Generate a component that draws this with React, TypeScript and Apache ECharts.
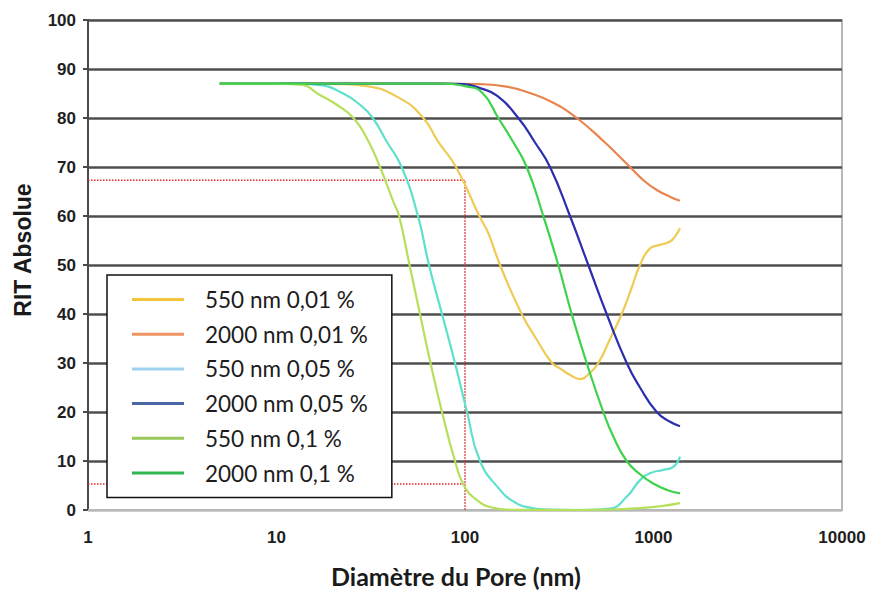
import React, { useEffect, useRef } from 'react';
import * as echarts from 'echarts';

const seriesNames = [
  '550 nm 0,01 %',
  '2000 nm 0,01 %',
  '550 nm 0,05 %',
  '2000 nm 0,05 %',
  '550 nm 0,1 %',
  '2000 nm 0,1 %',
];

const curveColors = ['#efcb55', '#e8844c', '#5ee0cd', '#2b2fae', '#b6e05c', '#3fd24c'];
const legendColors = ['#f3c53c', '#ee9462', '#9fd2ef', '#4a68a6', '#98c95a', '#2fb552'];

// [pore diameter (nm), RIT absolue]
const rit550_001 = [
  [5, 87], [10.4, 87], [21.7, 86.9], [30.1, 86.5], [45.2, 84], [60.1, 80], [72, 75.2],
  [89.6, 70], [119.1, 60], [132.9, 56.5], [153.4, 50], [199.9, 40], [240, 34.8], [289.4, 30],
  [319.1, 28.9], [360, 27.6], [407.4, 26.7], [455, 27.8], [509.6, 30], [590, 35], [678.2, 40],
  [760, 45], [848, 50], [958, 53.4], [1082, 54.1], [1223, 54.8], [1310, 56], [1382, 57.5],
];
const rit2000_001 = [
  [5, 87], [73.7, 87], [120, 86.9], [166, 86.4], [221, 85.1], [294, 83.1], [392, 80],
  [542, 75.3], [750, 70], [890, 67.2], [1040, 65.3], [1229, 63.9], [1382, 63.1],
];
const rit550_005 = [
  [5, 87], [12.5, 87], [17, 86.7], [22.6, 85], [27.7, 82.7], [32.4, 80], [38.4, 75.2],
  [46.1, 70], [56.3, 60], [64.4, 50], [75.5, 40], [88.5, 30], [102.5, 20], [120.1, 10],
  [153.4, 4.1], [179.8, 1.8], [213.3, 0.6], [280, 0.1], [420, 0], [587.8, 0.3], [720.9, 2.7],
  [848, 6.1], [958, 7.5], [1127, 8.2], [1274, 8.8], [1382, 10.9],
];
const rit2000_005 = [
  [5, 87], [73.7, 87], [97.9, 86.9], [120, 86.1], [147, 84.6], [191.8, 80], [235.2, 75],
  [282.5, 70], [360.6, 60], [451, 50], [564.5, 40], [720.9, 30], [848, 25], [1040, 20],
  [1224, 18], [1382, 17.1],
];
const rit550_01 = [
  [5, 87], [9.2, 87], [13.3, 86.8], [17, 84.7], [20.9, 82.7], [25.6, 80], [30.1, 75.9],
  [35.4, 70], [41.7, 62.9], [44.7, 60], [50.8, 50], [57.7, 40], [65.6, 30], [75.5, 20],
  [88.5, 10], [98.8, 5], [115.8, 2], [139.1, 0.5], [173.3, 0.05], [381, 0], [600, 0.1],
  [848, 0.4], [1100, 0.8], [1382, 1.4],
];
const rit2000_01 = [
  [5, 87], [73.7, 87], [100, 86.5], [123.1, 85.2], [150.2, 80], [177.5, 75.5], [212.5, 70],
  [260.3, 60], [312.6, 50], [368.1, 40], [442.1, 30], [541.7, 20], [612, 15], [720.9, 10],
  [848, 7.3], [997, 5.4], [1179, 4.1], [1382, 3.4],
];

const curves = [rit550_001, rit2000_001, rit550_005, rit2000_005, rit550_01, rit2000_01];

// red dotted reading guides
const guideDiameter = 100;
const guideHigh = 67.3;
const guideLow = 5.3;
const xMin = 1;
const xMax = 10000;

export default function App() {
  const ref = useRef<HTMLDivElement>(null);

  useEffect(() => {
    if (!ref.current) return;
    const chart = echarts.init(ref.current, null, { renderer: 'svg' });

    const splitColors = ['#bdbdbd'];
    for (let i = 0; i < 10; i++) splitColors.push('#4f4f4f');

    const lineSeries = curves.map((data, i) => ({
      type: 'line',
      name: seriesNames[i],
      data,
      smooth: 0.5,
      symbol: 'none',
      showSymbol: false,
      lineStyle: { color: curveColors[i], width: 2.2 },
      itemStyle: { color: curveColors[i] },
      z: 3,
    }));

    const guideStyle = { color: '#e3262b', width: 1.5, type: [1.5, 1.5] };

    const option = {
      animation: false,
      backgroundColor: '#ffffff',
      grid: {
        left: 88,
        right: 28,
        top: 20,
        bottom: 83,
        show: true,
        borderColor: '#b8b8b8',
        borderWidth: 2,
        backgroundColor: 'transparent',
      },
      xAxis: {
        type: 'log',
        logBase: 10,
        min: xMin,
        max: xMax,
        axisLine: { show: true, onZero: false, lineStyle: { color: '#b8b8b8', width: 2 } },
        axisTick: { show: false },
        splitLine: { show: false },
        minorTick: { show: false },
        minorSplitLine: { show: false },
        axisLabel: {
          fontFamily: '"Liberation Sans", Arial, sans-serif',
          fontWeight: 'bold',
          fontSize: 17,
          color: '#1e1e1e',
          margin: 19,
          formatter: (v: number) => String(Math.round(v)),
        },
      },
      yAxis: {
        type: 'value',
        min: 0,
        max: 100,
        interval: 10,
        axisLine: { show: true, lineStyle: { color: '#4a4a4a', width: 2 } },
        axisTick: { show: true, length: 5, lineStyle: { color: '#4a4a4a', width: 2 } },
        splitLine: { show: true, lineStyle: { color: splitColors, width: 2.5 } },
        axisLabel: {
          fontFamily: '"Liberation Sans", Arial, sans-serif',
          fontWeight: 'bold',
          fontSize: 17,
          color: '#1e1e1e',
          margin: 12,
        },
      },
      legend: {
        orient: 'vertical',
        left: 107,
        top: 275,
        selectedMode: false,
        data: seriesNames.map((n, i) => ({
          name: n,
          icon: 'rect',
          itemStyle: { color: legendColors[i], borderWidth: 0 },
        })),
        itemWidth: 52,
        itemHeight: 3,
        itemGap: 11.7,
        padding: [13, 24, 13, 25],
        borderColor: '#111111',
        borderWidth: 1.5,
        borderRadius: 0,
        backgroundColor: '#ffffff',
        textStyle: {
          fontFamily: 'Lato, "Open Sans", sans-serif',
          fontSize: 22.5,
          lineHeight: 19,
          color: '#1c1c1c',
          padding: [0, 0, 0, 16],
        },
      },
      graphic: [
        {
          type: 'text',
          x: 23,
          y: 250,
          rotation: Math.PI / 2,
          style: {
            text: 'RIT Absolue',
            font: 'bold 23px "Liberation Sans", Arial, sans-serif',
            fill: '#1a1a1a',
            align: 'center',
            verticalAlign: 'middle',
          },
        },
        {
          type: 'text',
          x: 456,
          y: 576,
          style: {
            text: 'Diamètre du Pore (nm)',
            font: 'bold 25px Lato, "Open Sans", sans-serif',
            fill: '#1a1a1a',
            align: 'center',
            verticalAlign: 'middle',
          },
        },
      ],
      series: [
        {
          type: 'line',
          name: 'guide-high',
          data: [[xMin, guideHigh], [guideDiameter, guideHigh], [guideDiameter, 0]],
          symbol: 'none',
          lineStyle: guideStyle,
          silent: true,
          z: 2,
        },
        {
          type: 'line',
          name: 'guide-low',
          data: [[xMin, guideLow], [guideDiameter, guideLow]],
          symbol: 'none',
          lineStyle: guideStyle,
          silent: true,
          z: 2,
        },
        ...lineSeries,
      ],
    };

    chart.setOption(option as any);
    return () => chart.dispose();
  }, []);

  return (
    <div
      ref={ref}
      style={{ position: 'fixed', left: 0, top: 0, width: 870, height: 593, background: '#fff' }}
    />
  );
}
